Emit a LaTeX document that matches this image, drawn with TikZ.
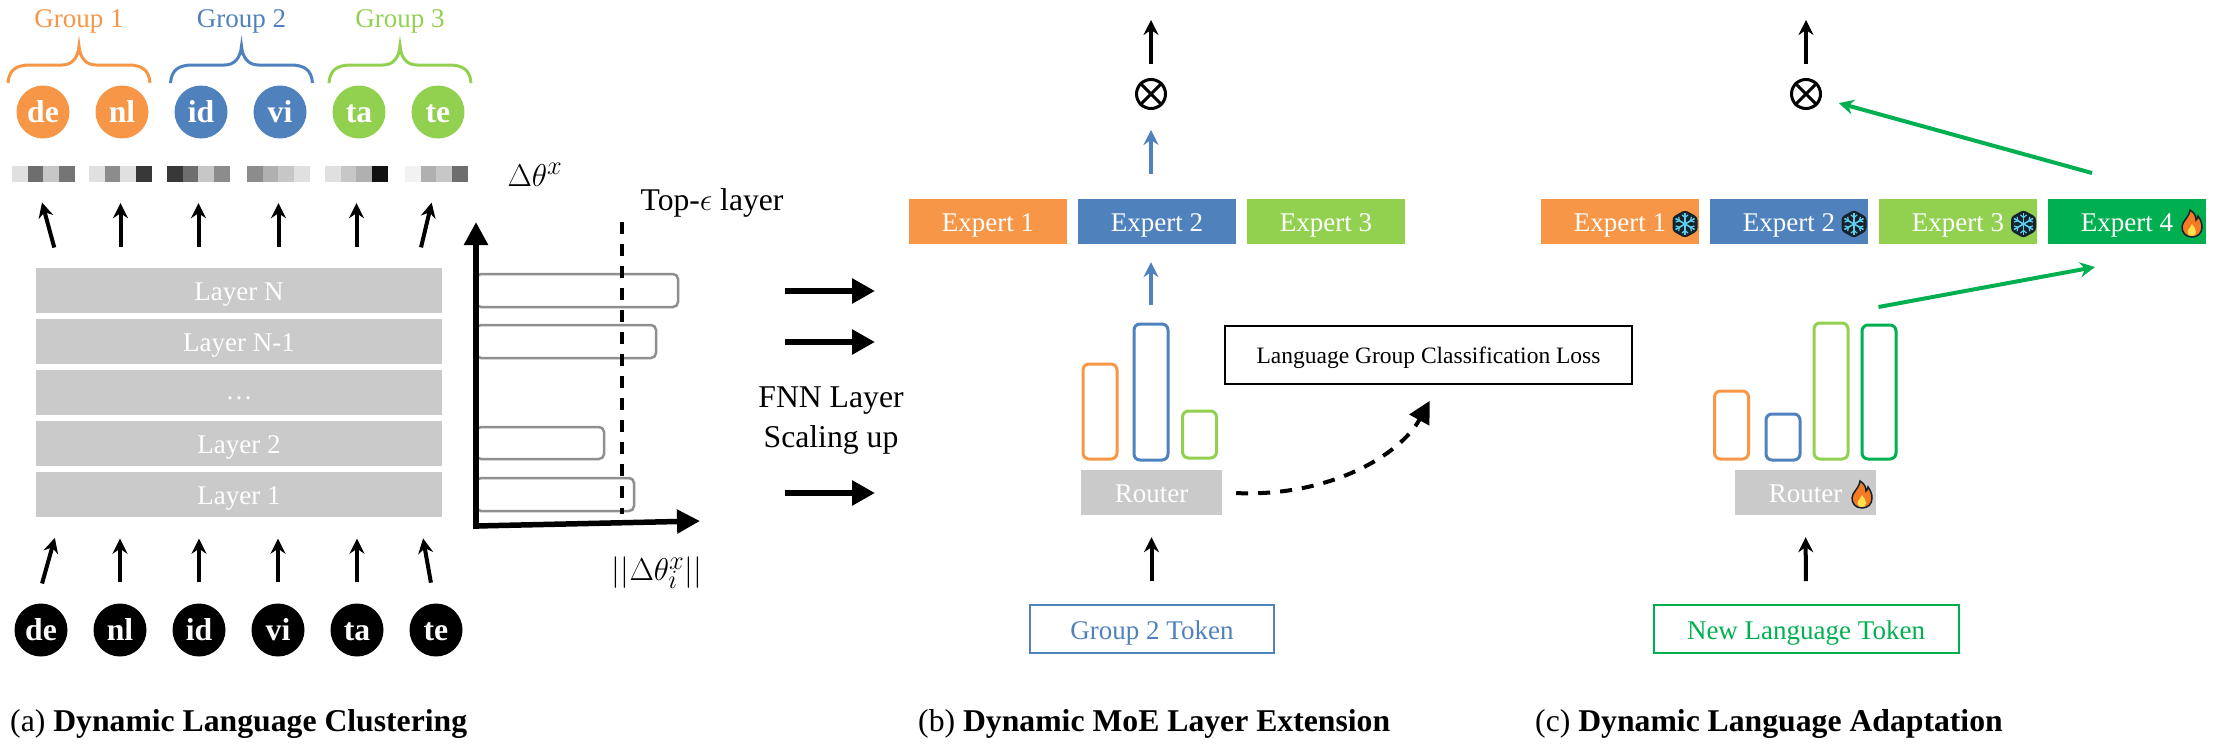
\documentclass[tikz,border=0pt]{standalone}
\usepackage{fontspec}
\setmainfont{Liberation Serif}
\usepackage{xcolor}
\usepackage{tikz}
\usetikzlibrary{arrows.meta}

\definecolor{orgc}{HTML}{F79646}
\definecolor{bluc}{HTML}{4F81BD}
\definecolor{grnc}{HTML}{92D050}
\definecolor{dgrc}{HTML}{00B050}
\definecolor{layc}{HTML}{CACACA}
\definecolor{barc}{HTML}{8F8F8F}
\definecolor{icnd}{HTML}{16222C}
\definecolor{icnc}{HTML}{5CCFEE}
\definecolor{flmo}{HTML}{F47A23}
\definecolor{flmy}{HTML}{FFE14D}

\newcommand{\sizea}{\fontsize{27}{32}\selectfont}
\newcommand{\sizeb}{\fontsize{31.7}{40}\selectfont}
\newcommand{\sizem}{\fontsize{24.88}{30}\selectfont}

\tikzstyle{arrow} = [line width=4pt,-{Stealth[length=15pt,width=15pt,inset=5pt]}]
\tikzstyle{bigarrow} = [line width=6.5pt,-{Triangle[length=23pt,width=24pt]}]
\tikzstyle{axisline} = [line width=5.5pt,line cap=rect,-{Triangle[length=23pt,width=23pt]}]
\tikzstyle{dashline} = [line width=4pt,dash pattern=on 12pt off 10pt]
\tikzstyle{colorbox} = [inner sep=0pt,minimum width=158pt,minimum height=45pt,text=white,font=\sizea,text height=20pt,text depth=0pt]
\tikzstyle{layerbox} = [colorbox,fill=layc,minimum width=406pt]
\tikzstyle{routerbox} = [colorbox,fill=layc,minimum width=141pt]
\tikzstyle{langdot} = [circle,inner sep=0pt,minimum size=53pt,text=white,font=\sizeb\bfseries,text height=20pt,text depth=0pt]
\tikzstyle{heatbox} = [inner sep=0pt,minimum width=63pt,minimum height=16pt]
\tikzstyle{barbox} = [draw,rounded corners=6pt,line width=3pt,inner sep=0pt,minimum width=34pt]
\tikzstyle{chartbar} = [draw=barc,rounded corners=5pt,line width=2.5pt]
\tikzstyle{prodnode} = [circle,draw,line width=3pt,inner sep=0pt,minimum size=29pt]
\tikzstyle{tokenbox} = [draw,line width=2pt,inner sep=0pt,minimum height=48pt,font=\sizea,text height=20pt,text depth=0pt]
\tikzstyle{plaintext} = [inner sep=0pt,font=\sizea]
\tikzstyle{mathtext} = [inner sep=0pt,font=\sizem,scale=1.27]
\tikzstyle{captext} = [inner sep=0pt,anchor=base west,font=\sizeb]

\newcommand{\heatstrip}[6]{
    \node[heatbox] (#1) at (#2,174) {};
    \fill[black!#3] (#1.north west) rectangle ++(15.75,16);
    \fill[black!#4] ([xshift=15.75pt]#1.north west) rectangle ++(15.75,16);
    \fill[black!#5] ([xshift=31.5pt]#1.north west) rectangle ++(15.75,16);
    \fill[black!#6] ([xshift=47.25pt]#1.north west) rectangle ++(15.75,16);
}
\newcommand{\groupbrace}[2]{
    \draw[#2,line width=3pt,shift={(#1,0)}] (-71,83) .. controls (-70,70) and (-63,65) .. (-49,65) -- (-17,65)
        .. controls (-7,65) and (-1,58) .. (0,46) .. controls (1,58) and (7,65) .. (17,65) -- (49,65)
        .. controls (63,65) and (70,70) .. (71,83);
}
\newcommand{\frosticon}[2]{
    \begin{scope}[shift={(#1,#2)}]
        \fill[icnd,rounded corners=3pt] (0,-14) -- (12.5,-7) -- (12.5,7) -- (0,14) -- (-12.5,7) -- (-12.5,-7) -- cycle;
        \foreach \ang in {30,90,...,330} {
            \draw[icnc,line width=1.6pt] (0,0) -- (\ang:11);
            \draw[icnc,line width=1.2pt] (\ang:6.5) -- ++(\ang+50:4);
            \draw[icnc,line width=1.2pt] (\ang:6.5) -- ++(\ang-50:4);
        }
    \end{scope}
}
\newcommand{\flameicon}[2]{
    \begin{scope}[shift={(#1,#2)}]
        \filldraw[draw=icnd,fill=flmo,line width=1.5pt] (0,13) .. controls (-7,13) and (-10,8) .. (-10,3)
            .. controls (-10,-3) and (-3,-6) .. (-2,-14) .. controls (3,-11) and (4,-7) .. (4,-4)
            .. controls (5,-5) and (6,-6) .. (6,-8) .. controls (9,-4) and (10,0) .. (10,3)
            .. controls (10,9) and (6,13) .. (0,13) -- cycle;
        \fill[flmy] (0,12) .. controls (-4,12) and (-5,9) .. (-4,6) .. controls (-3,4) and (-1,3) .. (0,0)
            .. controls (2,3) and (4,5) .. (4,8) .. controls (4,11) and (2,12) .. (0,12) -- cycle;
    \end{scope}
}

\begin{document}
\begin{tikzpicture}[x=1pt,y=-1pt]
    \useasboundingbox (0,0) rectangle (2215,744);

    % (a) clustering
    \node[plaintext,text=orgc] (grpone) at (79,21) {Group 1};
    \node[plaintext,text=bluc] (grptwo) at (241.5,21) {Group 2};
    \node[plaintext,text=grnc] (grpthree) at (400,21) {Group 3};
    \groupbrace{79}{orgc}
    \groupbrace{241.5}{bluc}
    \groupbrace{400}{grnc}

    \node[langdot,fill=orgc] (deout) at (43,112) {de};
    \node[langdot,fill=orgc] (nlout) at (122,112) {nl};
    \node[langdot,fill=bluc] (idout) at (201,112) {id};
    \node[langdot,fill=bluc] (viout) at (280,112) {vi};
    \node[langdot,fill=grnc] (taout) at (359,112) {ta};
    \node[langdot,fill=grnc] (teout) at (438,112) {te};

    \heatstrip{hde}{43.5}{12}{57}{22}{54}
    \heatstrip{hnl}{120.5}{12}{45}{12}{78}
    \heatstrip{hid}{198.5}{78}{57}{22}{45}
    \heatstrip{hvi}{278.5}{45}{31}{22}{12}
    \heatstrip{hta}{356.5}{12}{22}{31}{93}
    \heatstrip{hte}{436.5}{5}{31}{22}{57}
    \node[mathtext] (dtheta) at (535,175) {$\Delta\theta^{x}$};

    \node[layerbox] (layerN) at (239,290.5) {Layer N};
    \node[layerbox] (layerM) at (239,341.5) {Layer N-1};
    \node[layerbox,text height=13pt] (layerdots) at (239,392.5) {…};
    \node[layerbox] (layertwo) at (239,443) {Layer 2};
    \node[layerbox] (layerone) at (239,494) {Layer 1};

    \draw[arrow,shorten <=21pt,shorten >=21pt] ([xshift=24pt]layerN.north west) -- ([xshift=-7pt]hde.south);
    \draw[arrow,shorten <=21pt,shorten >=21pt] (layerN.north -| hnl) -- (hnl.south);
    \draw[arrow,shorten <=21pt,shorten >=21pt] (layerN.north -| hid) -- (hid.south);
    \draw[arrow,shorten <=21pt,shorten >=21pt] (layerN.north -| hvi) -- (hvi.south);
    \draw[arrow,shorten <=21pt,shorten >=21pt] (layerN.north -| hta) -- (hta.south);
    \draw[arrow,shorten <=21pt,shorten >=21pt] ([xshift=-26pt]layerN.north east) -- (hte.south);

    \node[langdot,fill=black] (dein) at (41,630) {de};
    \node[langdot,fill=black] (nlin) at (120,630) {nl};
    \node[langdot,fill=black] (idin) at (199,630) {id};
    \node[langdot,fill=black] (viin) at (278,630) {vi};
    \node[langdot,fill=black] (tain) at (357,630) {ta};
    \node[langdot,fill=black] (tein) at (436,630) {te};

    \draw[arrow,shorten <=21pt,shorten >=22pt] (dein.100) -- ([xshift=25pt]layerone.south west);
    \draw[arrow,shorten <=21pt,shorten >=22pt] (nlin.north) -- (layerone.south -| nlin);
    \draw[arrow,shorten <=21pt,shorten >=22pt] (idin.north) -- (layerone.south -| idin);
    \draw[arrow,shorten <=21pt,shorten >=22pt] (viin.north) -- (layerone.south -| viin);
    \draw[arrow,shorten <=21pt,shorten >=22pt] (tain.north) -- (layerone.south -| tain);
    \draw[arrow,shorten <=21pt,shorten >=22pt] (tein.93) -- ([xshift=-23pt]layerone.south east);

    % gradient norm chart
    \draw[chartbar] (476,274) rectangle (678,307);
    \draw[chartbar] (476,325) rectangle (656,358);
    \draw[chartbar] (476,427) rectangle (604,459);
    \draw[chartbar] (476,478) rectangle (634,511);
    \coordinate (axo) at (476,526);
    \coordinate (aytip) at (476,222);
    \coordinate (axtip) at (700,521);
    \draw[axisline] (axo) -- (aytip);
    \draw[axisline] (axo) -- (axtip);
    \coordinate (cuttop) at (622,222);
    \coordinate (cutbot) at (622,514);
    \draw[dashline] (cuttop) -- (cutbot);
    \node[mathtext] (toplabel) at (712,203) {Top-$\epsilon$ layer};
    \node[mathtext] (normlabel) at (657,573) {$||\Delta\theta_{i}^{x}||$};

    % scaling up
    \coordinate (sclA) at (785,291);
    \coordinate (sclAe) at (875,291);
    \coordinate (sclB) at (785,342);
    \coordinate (sclBe) at (875,342);
    \coordinate (sclC) at (785,493);
    \coordinate (sclCe) at (875,493);
    \draw[bigarrow] (sclA) -- (sclAe);
    \draw[bigarrow] (sclB) -- (sclBe);
    \draw[bigarrow] (sclC) -- (sclCe);
    \node[plaintext,font=\sizeb,align=center] (fnntext) at (831,421) {FNN Layer\\Scaling up};

    % (b) MoE layer
    \coordinate (outb) at (1151,20);
    \node[prodnode] (prodb) at (1151,94) {};
    \draw[line width=3pt] (prodb.north west) -- (prodb.south east);
    \draw[line width=3pt] (prodb.north east) -- (prodb.south west);
    \node[colorbox,fill=orgc] (expbA) at (988,221.5) {Expert 1};
    \node[colorbox,fill=bluc] (expbB) at (1157,221.5) {Expert 2};
    \node[colorbox,fill=grnc] (expbC) at (1326,221.5) {Expert 3};
    \node[barbox,draw=orgc,minimum height=95pt] (barbA) at (1100,411.5) {};
    \node[barbox,draw=bluc,minimum height=136pt] (barbB) at (1151,392) {};
    \node[barbox,draw=grnc,minimum height=47pt] (barbC) at (1199.5,434.5) {};
    \node[routerbox] (routerb) at (1151.5,492.5) {Router};
    \node[tokenbox,draw=bluc,text=bluc,minimum width=244pt] (tokenb) at (1152,629) {Group 2 Token};
    \node[draw,line width=2pt,inner sep=0pt,minimum width=407pt,minimum height=58pt,font=\fontsize{23.5}{28}\selectfont,text height=16pt,text depth=0pt] (loss) at (1428.5,355) {Language Group Classification Loss};

    \draw[arrow,shorten <=14pt] (prodb.north) -- (outb);
    \draw[arrow,draw=bluc,shorten <=25pt,shorten >=20pt] (expbB.north -| prodb) -- (prodb.south);
    \draw[arrow,draw=bluc,shorten <=18pt,shorten >=18pt] (barbB.north) -- (barbB.north |- expbB.south);
    \draw[arrow,shorten <=23pt,shorten >=22pt] (tokenb.north -| routerb) -- (routerb.south);
    \draw[dashline,-{Triangle[length=22pt,width=22pt]},shorten <=14pt,shorten >=18pt] (routerb.east) .. controls (1330,497) and (1400,455) .. ([xshift=10pt]loss.south);

    % (c) adaptation
    \coordinate (outc) at (1806,20);
    \node[prodnode] (prodc) at (1806,94) {};
    \draw[line width=3pt] (prodc.north west) -- (prodc.south east);
    \draw[line width=3pt] (prodc.north east) -- (prodc.south west);
    \node[colorbox,fill=orgc] (expcA) at (1620,221.5) {Expert 1};
    \node[colorbox,fill=bluc] (expcB) at (1789,221.5) {Expert 2};
    \node[colorbox,fill=grnc] (expcC) at (1958,221.5) {Expert 3};
    \node[colorbox,fill=dgrc] (expcD) at (2127,221.5) {Expert 4};
    \frosticon{1685}{224}
    \frosticon{1854}{224}
    \frosticon{2023.5}{224}
    \flameicon{2192}{224}
    \node[barbox,draw=orgc,minimum height=68pt] (barcA) at (1731.5,425) {};
    \node[barbox,draw=bluc,minimum height=46pt] (barcB) at (1783,437) {};
    \node[barbox,draw=grnc,minimum height=136pt] (barcC) at (1831,391) {};
    \node[barbox,draw=dgrc,minimum height=134pt] (barcD) at (1879,392) {};
    \node[routerbox] (routerc) at (1805.5,492.5) {Router};
    \flameicon{1862}{495}
    \node[tokenbox,draw=dgrc,text=dgrc,minimum width=305pt] (tokenc) at (1806,629) {New Language Token};

    \draw[arrow,shorten <=14pt] (prodc.north) -- (outc);
    \draw[arrow,shorten <=23pt,shorten >=22pt] (tokenc.north) -- (routerc.south);
    \coordinate (ginA) at (2092,173);
    \coordinate (ginB) at (1878.5,307);
    \coordinate (gtipB) at (2095,267);
    \draw[arrow,draw=dgrc,shorten >=18pt] (ginA) -- (prodc);
    \draw[arrow,draw=dgrc] (ginB) -- (gtipB);

    % captions
    \node[captext] (capa) at (10,731) {(a) \textbf{Dynamic Language Clustering}};
    \node[captext] (capb) at (918,731) {(b) \textbf{Dynamic MoE Layer Extension}};
    \node[captext] (capc) at (1535,731) {(c) \textbf{Dynamic Language Adaptation}};
\end{tikzpicture}
\end{document}
